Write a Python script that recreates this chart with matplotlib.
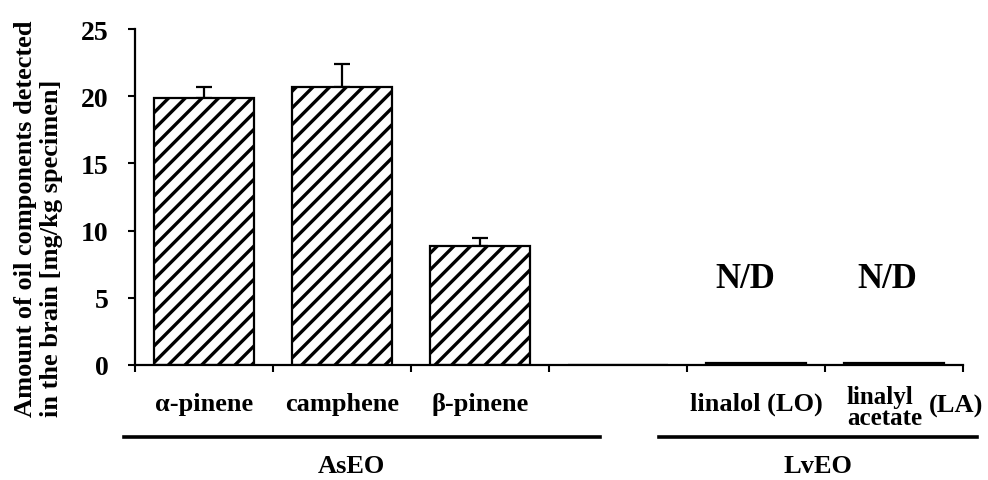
import matplotlib
matplotlib.use('Agg')
import matplotlib.pyplot as plt
import numpy as np

# values (mg/kg specimen)
components = ['α-pinene', 'camphene', 'β-pinene', '', 'linalol (LO)', 'linalyl\nacetate']
amount = [19.85, 20.7, 8.85, 0.0, 0.12, 0.12]
sd = [0.8, 1.7, 0.57, 0.0, 0.0, 0.0]
groups = ['AsEO', 'LvEO']
not_detected = [4, 5]

plt.rcParams['font.family'] = ['Liberation Serif', 'DejaVu Serif']
plt.rcParams['font.weight'] = 'bold'
plt.rcParams['hatch.linewidth'] = 2.4

fig = plt.figure(figsize=(9.88, 4.81), dpi=100)
ax = fig.add_axes([0.1366, 0.2391, 0.838, 0.6985])

x = np.arange(len(components)) + 0.5
ax.bar(x, amount, width=0.72, color='white', edgecolor='black',
       linewidth=1.6, hatch='//', zorder=2)
ax.errorbar(x[:3], amount[:3], yerr=[np.zeros(3), sd[:3]], fmt='none',
            ecolor='black', elinewidth=1.6, capsize=5.5, capthick=1.6, zorder=1)

ax.set_xlim(0, 6)
ax.set_ylim(0, 25)
ax.set_yticks([0, 5, 10, 15, 20, 25])
ax.set_xticks(np.arange(0, 7))
ax.set_xticklabels([])
ax.tick_params(axis='y', direction='out', length=5, width=1.5, pad=14, labelsize=20)
ax.tick_params(axis='x', direction='out', length=5, width=1.5)
for s in ['top', 'right']:
    ax.spines[s].set_visible(False)
for s in ['left', 'bottom']:
    ax.spines[s].set_linewidth(1.6)

tr = ax.get_xaxis_transform()
for i in range(5):
    ax.text(x[i], -0.115, components[i], transform=tr, ha='center', va='center',
            fontsize=19)
ax.text(5.16, -0.125, components[5], transform=tr, ha='left', va='center',
        multialignment='left', fontsize=18, linespacing=0.92)
ax.text(x[5] + 0.45, -0.12, '(LA)', transform=tr, ha='center', va='center',
        fontsize=19)

for i in not_detected:
    ax.text(x[i] - 0.08 if i == 4 else x[i] - 0.05, 6.4, 'N/D', ha='center',
            va='center', fontsize=25)

# group brackets under the axis
ax.plot([-0.08, 3.37], [-0.214, -0.214], transform=tr, color='black', lw=2.6,
        clip_on=False)
ax.plot([3.80, 6.10], [-0.214, -0.214], transform=tr, color='black', lw=2.6,
        clip_on=False)
ax.text(1.57, -0.30, groups[0], transform=tr, ha='center', va='center', fontsize=19)
ax.text(4.95, -0.30, groups[1], transform=tr, ha='center', va='center', fontsize=19)

fig.text(0.039, 0.545, 'Amount of oil components detected\nin the brain [mg/kg specimen]',
         rotation=90, ha='center', va='center', multialignment='left',
         fontsize=19, linespacing=1.15)

fig.savefig('out.png', dpi=100)
